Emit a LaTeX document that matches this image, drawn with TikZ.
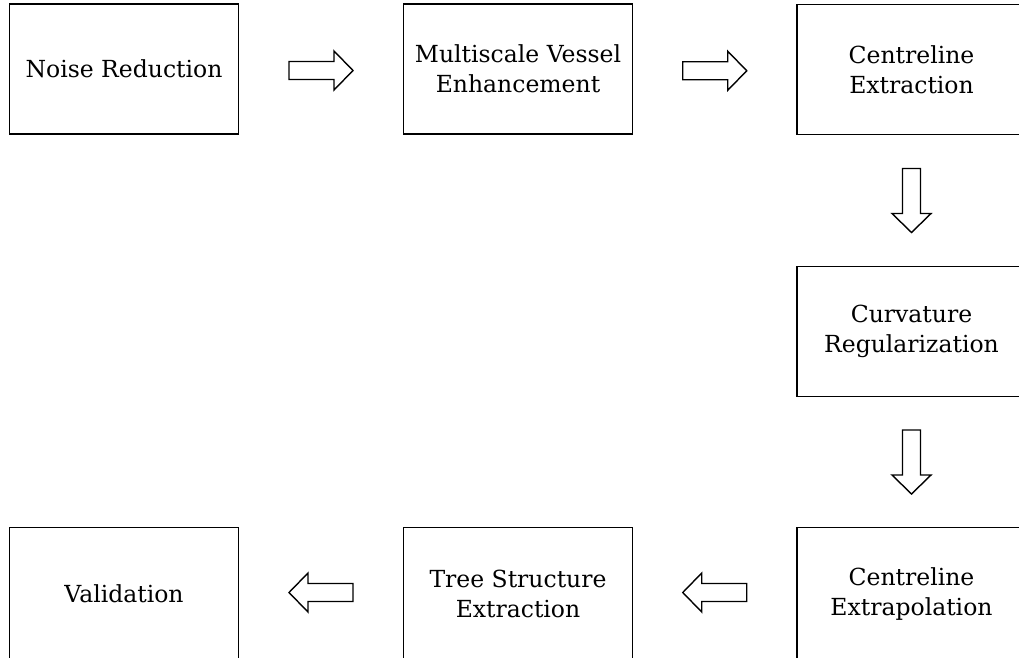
\documentclass[tikz,border=0pt]{standalone}
\usepackage{fontspec}
\setmainfont{DejaVu Serif}
\usetikzlibrary{calc}
\tikzset{
  stepbox/.style={draw=black, line width=1.8pt, rectangle, minimum width=229pt, minimum height=130pt, align=center, inner sep=0pt, font=\fontsize{23.5}{30}\selectfont},
  blockarrow/.style={draw=black, line width=1.4pt, fill=white, line join=miter},
}
\newcommand\blockarr[2]{\draw[blockarrow, shift={(#1)}, rotate=#2] (-32,-9) -- (13,-9) -- (13,-19.5) -- (32,0) -- (13,19.5) -- (13,9) -- (-32,9) -- cycle;}
\begin{document}
\begin{tikzpicture}[x=1pt,y=-1pt]
\useasboundingbox (0,0) rectangle (1019,657);
\clip (0,0) rectangle (1019,657);
\node[stepbox] (n1) at (124,69) {Noise Reduction};
\node[stepbox] (n2) at (518,69) {Multiscale Vessel\\Enhancement};
\node[stepbox] (n3) at (911.5,69.5) {Centreline\\Extraction};
\node[stepbox] (n4) at (911.5,331.5) {Curvature\\Regularization};
\node[stepbox, minimum height=133pt] (n5) at (911.5,594) {Centreline\\Extrapolation};
\node[stepbox, minimum height=133pt] (n6) at (518,594) {Tree Structure\\Extraction};
\node[stepbox, minimum height=133pt] (n7) at (124,594) {Validation};
\coordinate (a1) at ($(n1.east)!0.5!(n2.west)+(0,1.5)$);
\coordinate (a2) at ($(n2.east)!0.5!(n3.west)+(0,1.5)$);
\coordinate (a3) at ($(n3.south)!0.5!(n4.north)$);
\coordinate (a4) at ($(n4.south)!0.5!(n5.north)$);
\coordinate (a5) at ($(n5.west)!0.5!(n6.east)+(0,-1.5)$);
\coordinate (a6) at ($(n6.west)!0.5!(n7.east)+(0,-1.5)$);
\blockarr{a1}{0}
\blockarr{a2}{0}
\blockarr{a3}{-90}
\blockarr{a4}{-90}
\blockarr{a5}{180}
\blockarr{a6}{180}
\end{tikzpicture}
\end{document}
